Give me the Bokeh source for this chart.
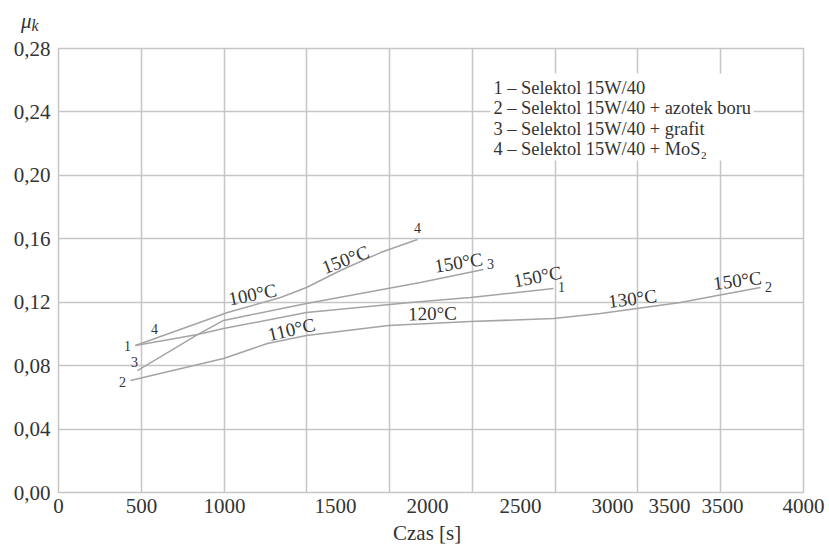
from bokeh.plotting import figure
from bokeh.models import FixedTicker, ColumnDataSource, Div
from bokeh.layouts import column
from bokeh.embed import file_html
from bokeh.resources import INLINE
from bokeh.core.properties import value

# ---- data (time [s] on uniform 500 s grid, friction coefficient) ----
c1_t = [465, 840, 997, 1498, 2126, 2488, 2990]
c1_mu = [0.0927, 0.0996, 0.1034, 0.1135, 0.1198, 0.1230, 0.1286]

c2_t = [435, 997, 1262, 1498, 1993, 2488, 2990, 3274, 3757, 3980, 4240]
c2_mu = [0.0706, 0.0845, 0.0940, 0.0990, 0.1053, 0.1078, 0.1097, 0.1129, 0.1198, 0.1242, 0.1293]

c3_t = [477, 840, 997, 1498, 2186, 2567]
c3_mu = [0.0769, 0.0996, 0.1085, 0.1192, 0.1324, 0.1406]

c4_t = [465, 1021, 1341, 1498, 1703, 1945, 2168]
c4_mu = [0.0927, 0.1135, 0.1230, 0.1293, 0.1400, 0.1513, 0.1595]

grid_t = [0, 500, 1000, 1500, 2000, 2500, 3000, 3500, 4000, 4500]
x_tick_pos = [0, 501, 1003, 1673, 2229, 2790, 3346, 3690, 4010, 4500]
x_tick_labels = ["0", "500", "1000", "1500", "2000", "2500", "3000", "3500", "3500", "4000"]

y_ticks = [0.00, 0.04, 0.08, 0.12, 0.16, 0.20, 0.24, 0.28]
y_labels = ["0,00", "0,04", "0,08", "0,12", "0,16", "0,20", "0,24", "0,28"]

temp_text = ["100°C", "110°C", "150°C", "150°C", "120°C", "150°C", "130°C", "150°C"]
temp_x = [1172, 1407, 1733, 2416, 2259, 2893, 3467, 4101]
temp_y = [0.1249, 0.1028, 0.1469, 0.1450, 0.1129, 0.1362, 0.1223, 0.1337]
temp_angle = [11, 13, 21, 9, 1, 11, 7, 7]

num_text = ["1", "4", "3", "2", "4", "3", "1", "2"]
num_x = [417, 580, 459, 387, 2168, 2609, 3038, 4288]
num_y = [0.0927, 0.1034, 0.0820, 0.0700, 0.1665, 0.1444, 0.1293, 0.1299]

legend_lines = [
    "1 – Selektol 15W/40",
    "2 – Selektol 15W/40 + azotek boru",
    "3 – Selektol 15W/40 + grafit",
    "4 – Selektol 15W/40 + MoS₂",
]

FONT = "Liberation Serif"
GRID = "#c6c6c6"
CURVE = "#a4a4a4"
TXT = "#333333"

TOP_H = 36
BOT_H = 26

# y-axis symbol above the plot
top = Div(width=829, height=TOP_H, margin=(0, 0, 0, 0),
          text=('<div style="padding-left:21px;height:36px;line-height:36px;'
                'position:relative;top:3px;'
                "font-family:'Liberation Serif',serif;font-style:italic;font-size:21px;"
                'color:#333333;white-space:nowrap;">μ<span style="font-size:16px;'
                'position:relative;top:3px;">k</span></div>'))

# x-axis title below the plot
bottom = Div(width=829, height=BOT_H, margin=(0, 0, 0, 0),
             text=('<div style="padding-left:393px;height:26px;line-height:26px;'
                   "font-family:'Liberation Serif',serif;font-size:21px;color:#333333;"
                   'text-align:left;white-space:nowrap;">Czas [s]</div>'))

p = figure(width=829, height=546 - TOP_H - BOT_H, x_range=(0, 4500), y_range=(0, 0.28),
           output_backend="svg", toolbar_location=None,
           min_border_left=58, min_border_right=26, min_border_top=48 - TOP_H,
           min_border_bottom=546 - TOP_H - BOT_H - (48 - TOP_H) - 444)
p.background_fill_color = "white"
p.border_fill_color = "white"
p.outline_line_color = GRID
p.outline_line_width = 1.5

p.xaxis.ticker = FixedTicker(ticks=x_tick_pos)
p.xaxis.major_label_overrides = dict(zip(x_tick_pos, x_tick_labels))
p.xgrid.ticker = FixedTicker(ticks=grid_t)
p.yaxis.ticker = FixedTicker(ticks=y_ticks)
p.yaxis.major_label_overrides = dict(zip(y_ticks, y_labels))

for ax in (p.xaxis[0], p.yaxis[0]):
    ax.axis_line_color = None
    ax.major_tick_line_color = None
    ax.minor_tick_line_color = None
    ax.major_tick_out = 0
    ax.major_tick_in = 0
    ax.major_label_text_font = FONT
    ax.major_label_text_font_size = "21px"
    ax.major_label_text_color = TXT
p.xaxis.major_label_standoff = 6
p.yaxis.major_label_standoff = 8

for g in (p.xgrid[0], p.ygrid[0]):
    g.grid_line_color = GRID
    g.grid_line_width = 1.5

# curves
for t, mu in ((c1_t, c1_mu), (c2_t, c2_mu), (c3_t, c3_mu), (c4_t, c4_mu)):
    p.line(t, mu, line_color=CURVE, line_width=1.5)

# legend box (white, hides grid) and text
p.quad(left=[2609], right=[4198], bottom=[0.2094], top=[0.2642],
       fill_color="white", line_color=None)
leg_y = [0.2548, 0.2422, 0.2295, 0.2169]
p.text(x=[2627] * 4, y=leg_y, text=legend_lines,
       text_font=value(FONT), text_font_size="18.4px", text_color=TXT,
       text_align="left", text_baseline="middle")

# temperature labels
tsrc = ColumnDataSource(dict(x=temp_x, y=temp_y, text=temp_text, angle=temp_angle))
p.text(x="x", y="y", text="text", angle="angle", angle_units="deg", source=tsrc,
       text_font=value(FONT), text_font_size="19px", text_color=TXT,
       text_align="center", text_baseline="middle")

# curve number labels
nsrc = ColumnDataSource(dict(x=num_x, y=num_y, text=num_text))
p.text(x="x", y="y", text="text", source=nsrc,
       text_font=value(FONT), text_font_size="14px", text_color=TXT,
       text_align="center", text_baseline="middle")

layout = column(top, p, bottom, spacing=0)
open("out.html", "w").write(file_html(layout, INLINE))
